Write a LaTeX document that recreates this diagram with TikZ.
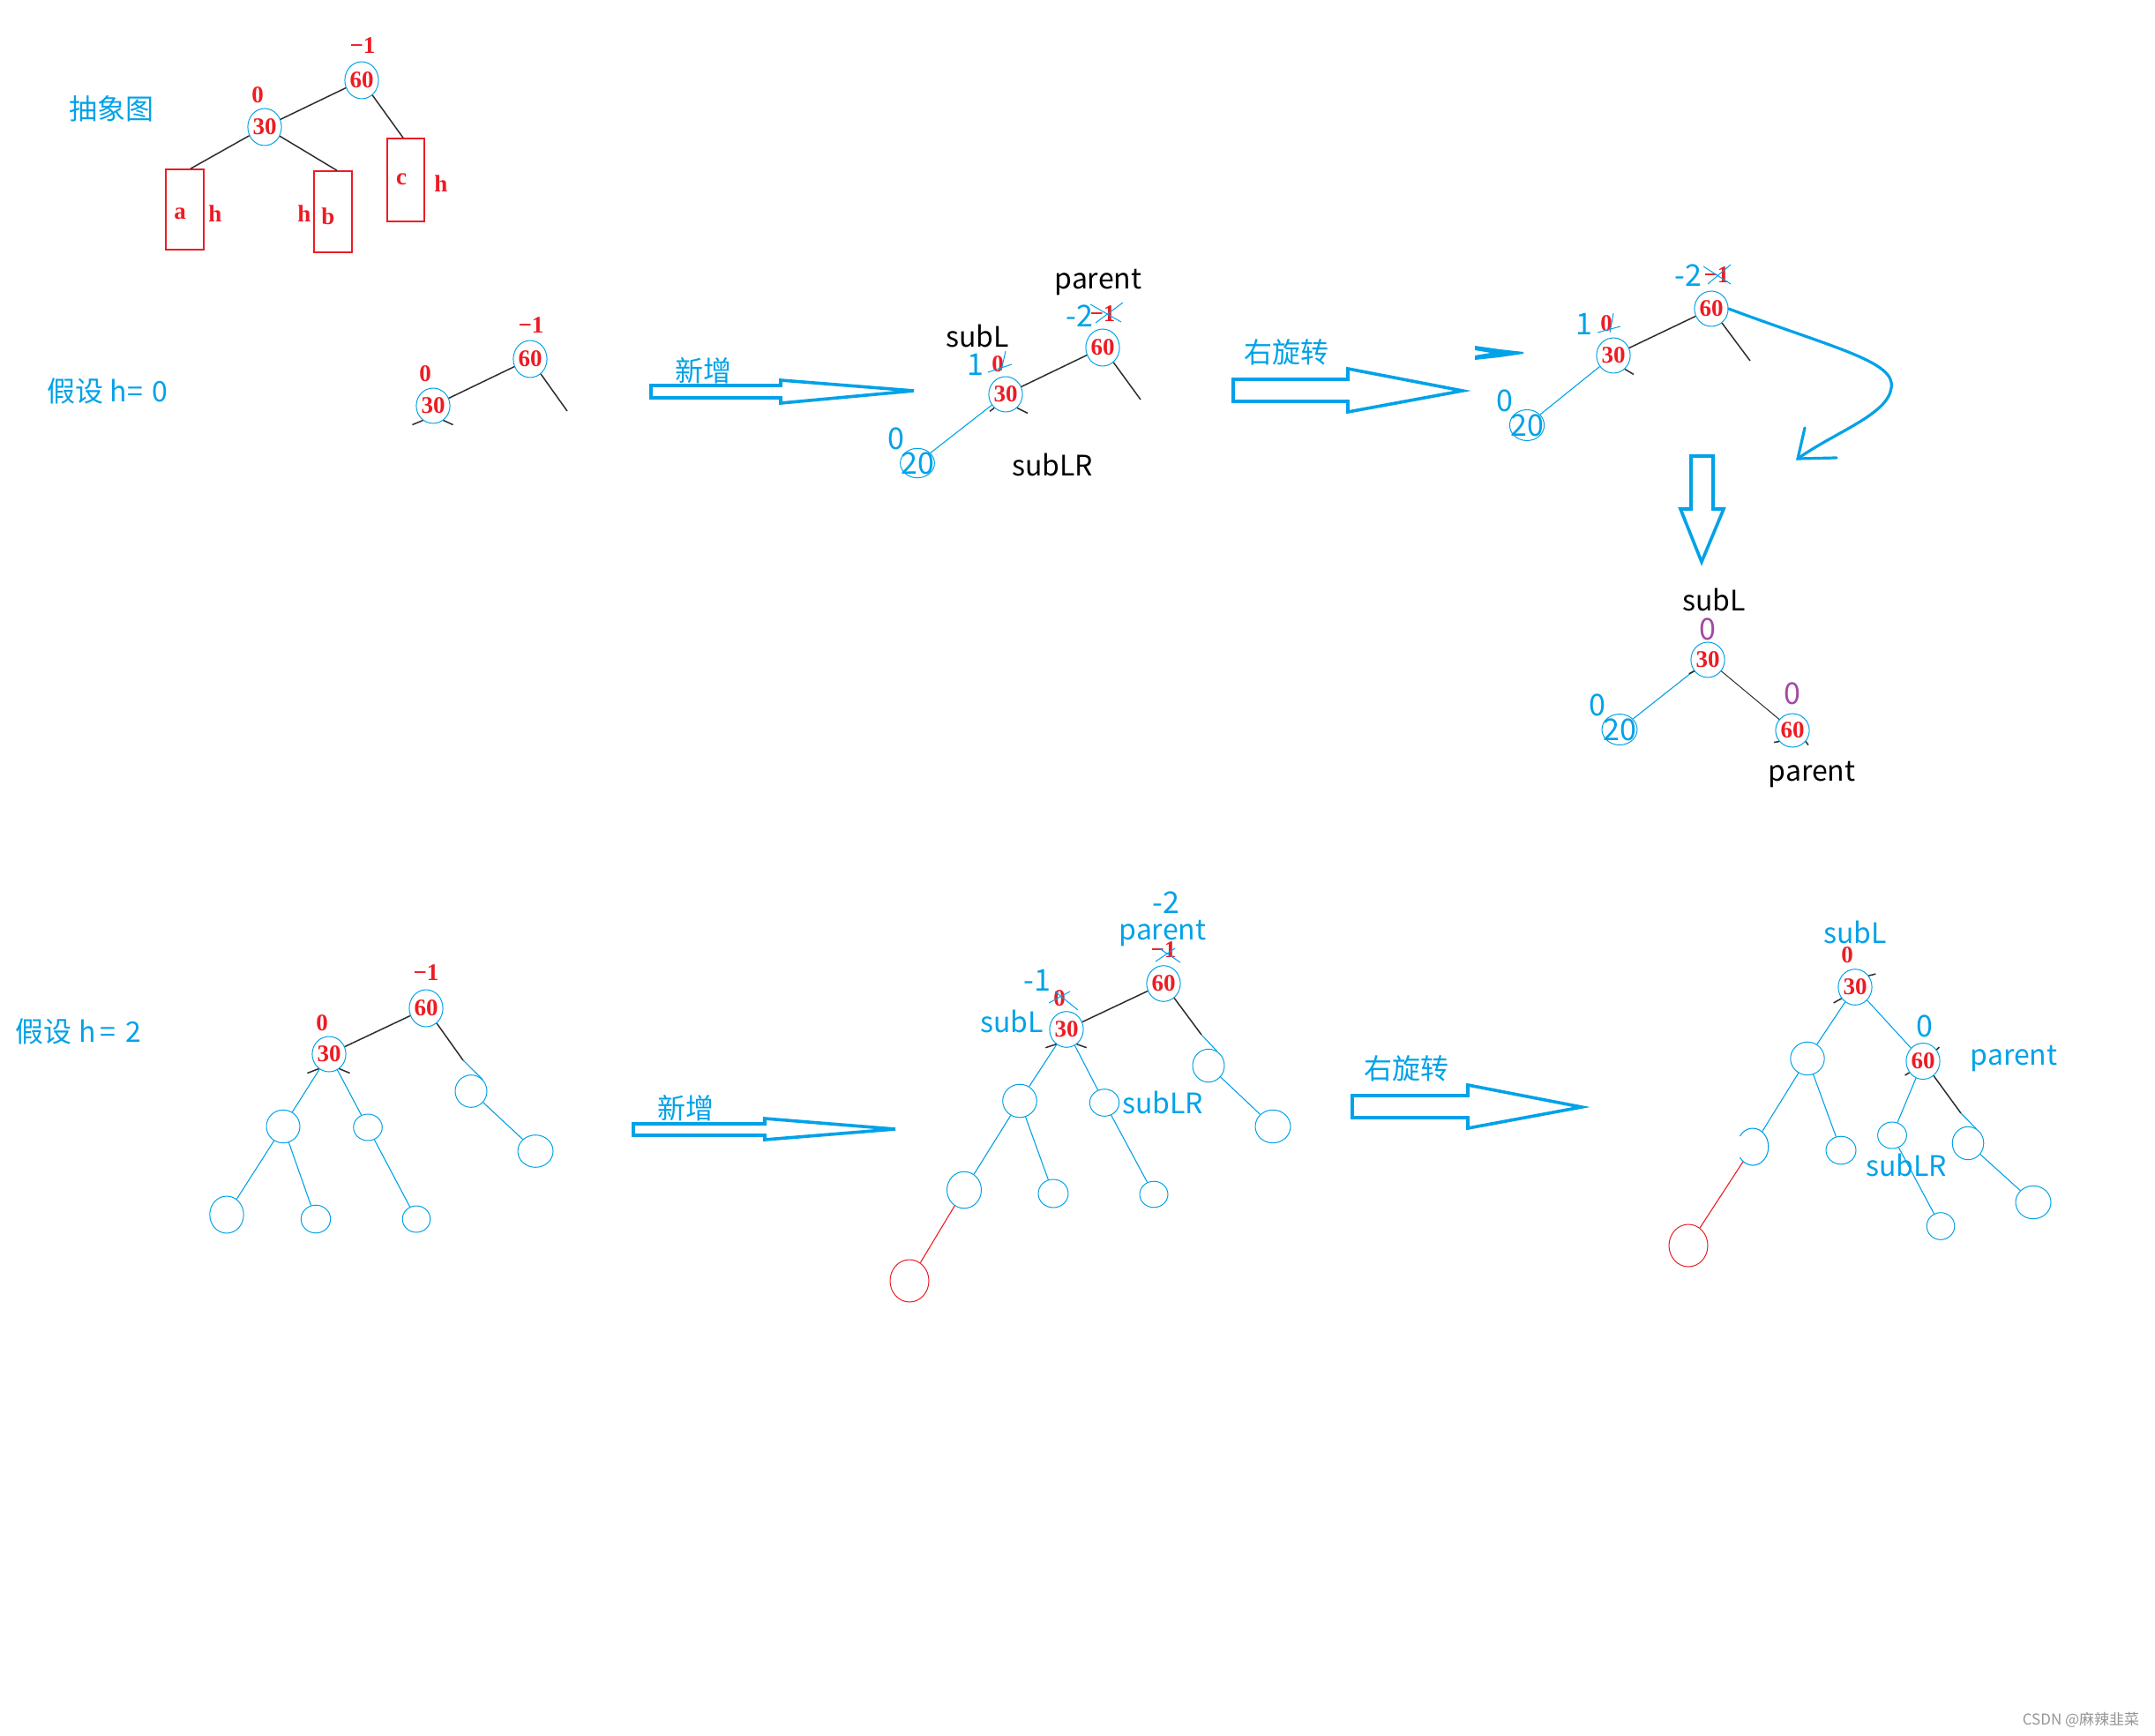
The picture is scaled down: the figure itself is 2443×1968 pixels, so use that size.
\documentclass[tikz,border=0pt]{standalone}
\usepackage{fontspec}
\setmainfont{Liberation Serif}
\newfontfamily\cjk{Noto Sans CJK SC}
\usetikzlibrary{shapes.geometric}
\definecolor{pblue}{RGB}{0,162,232}
\definecolor{pred}{RGB}{237,28,36}
\definecolor{ppurple}{RGB}{163,73,164}
\definecolor{pline}{RGB}{45,45,45}
\definecolor{wmgray}{RGB}{150,150,150}
\newcommand\RedNumFont{\fontsize{13.5}{15}\selectfont\bfseries}
\newcommand\ZhFont{\cjk\fontsize{16}{18}\selectfont}
\newcommand\LabFont{\cjk\fontsize{16}{18}\selectfont}
\newcommand\BlueNumFont{\cjk\fontsize{17}{19}\selectfont}
\newcommand\WmFont{\cjk\fontsize{8.5}{10}\selectfont}
\tikzset{
 nd/.style 2 args={ellipse, draw=pblue, line width=0.5pt, inner sep=0pt, minimum width=#1pt, minimum height=#2pt, text=pred, font=\RedNumFont},
 lf/.style 2 args={ellipse, draw=pblue, line width=0.5pt, inner sep=0pt, minimum width=#1pt, minimum height=#2pt},
 rlf/.style 2 args={ellipse, draw=pred, line width=0.5pt, inner sep=0pt, minimum width=#1pt, minimum height=#2pt},
 hid/.style 2 args={ellipse, inner sep=0pt, minimum width=#1pt, minimum height=#2pt},
 bx/.style 2 args={rectangle, draw=pred, line width=0.75pt, inner sep=0pt, minimum width=#1pt, minimum height=#2pt},
 rtxt/.style={text=pred, font=\RedNumFont, inner sep=0pt},
 btxt/.style={text=pblue, font=\BlueNumFont, inner sep=0pt},
 ptxt/.style={text=ppurple, font=\BlueNumFont, inner sep=0pt},
 ktxt/.style={text=black, font=\LabFont, inner sep=0pt},
 bltxt/.style={text=pblue, font=\LabFont, inner sep=0pt},
 zhtxt/.style={text=pblue, font=\ZhFont, inner sep=0pt},
 kline/.style={draw=pline, line width=0.75pt},
 bline/.style={draw=pblue, line width=0.55pt},
 rline/.style={draw=pred, line width=0.55pt},
 barrow/.style={draw=pblue, line width=1.8pt, line join=miter},
 carrow/.style={draw=pblue, line width=1.6pt, line cap=round},
 xmark/.style={draw=pblue, line width=0.5pt},
}
\begin{document}
\begin{tikzpicture}[x=0.5pt,y=-0.5pt]
\path[use as bounding box, fill=white] (0,0) rectangle (2443,1968);

% ---------- abstract picture ----------
\node[zhtxt] (t1) at (126,123) {抽象图};
\node[nd={19}{21}] (s1n60) at (410,91) {60};
\node[nd={19}{21}] (s1n30) at (300,144) {30};
\node[rtxt] (s1b60) at (411,52) {−1};
\node[rtxt] (s1b30) at (292,108) {0};
\node[bx={21.5}{45.5}] (boxa) at (209.5,237.5) {};
\node[bx={21.5}{46}] (boxb) at (377.5,240) {};
\node[bx={21}{47}] (boxc) at (460,204) {};
\node[rtxt] (la) at (204,242) {a};
\node[rtxt] (lha) at (244,242) {h};
\node[rtxt] (lhb) at (345,242) {h};
\node[rtxt] (lb) at (372,245) {b};
\node[rtxt] (lc) at (455,203) {c};
\node[rtxt] (lhc) at (500,208) {h};
\draw[kline] (s1n60) -- (s1n30);
\draw[kline] (s1n60) -- ([xshift=-1.5pt]boxc.north);
\draw[kline] (s1n30) -- ([xshift=3.25pt]boxa.north);
\draw[kline] (s1n30) -- ([xshift=2.25pt]boxb.north);

% ---------- h = 0 ----------
\node[zhtxt] (t2) at (122,443) {假设 h=\,\,0};
\node[nd={19}{21}] (s2n60) at (601,407) {60};
\node[nd={19}{20}] (s2n30) at (491,460) {30};
\node[rtxt] (s2b60) at (602,369) {−1};
\node[rtxt] (s2b30) at (482,424) {0};
\coordinate (s2e1) at (643,466);
\draw[kline] (s2n60) -- (s2n30);
\draw[kline] (s2n60) -- (s2e1);
\draw[kline] (s2n30.-125) -- ++(-12,5);
\draw[kline] (s2n30.-55) -- ++(11,5);

% arrow 新增 1
\node[zhtxt] (t3) at (797,420) {新增};
\draw[barrow] (738,437) -- (885,437) -- (885,431) -- (1036,443) -- (885,457) -- (885,451) -- (738,451) -- cycle;

% tree after insert
\node[nd={19}{21}] (s3n60) at (1250,394) {60};
\node[nd={19}{20}] (s3n30) at (1140,447) {30};
\node[lf={19.4}{16.7}, label={[btxt]center:20}] (s3n20) at (1040,525) {};
\node[ktxt] (s3p) at (1245,320) {parent};
\node[ktxt] (s3l) at (1108,381) {subL};
\node[ktxt] (s3lr) at (1193,527) {subLR};
\node[btxt] (s3m2) at (1224,358) {-2};
\node[rtxt] (s3x60) at (1250,356) {−1};
\draw[xmark] (1236,345) -- (1271,365) (1242,366) -- (1273,343);
\node[btxt] (s3one) at (1106,413) {1};
\node[rtxt] (s3x30) at (1131,413) {0};
\draw[xmark] (1120,422) -- (1147,413) (1140,398) -- (1135,420);
\node[btxt] (s3z20) at (1016,497) {0};
\coordinate (s3e1) at (1293,453);
\draw[kline] (s3n60) -- (s3n30);
\draw[kline] (s3n60) -- (s3e1);
\draw[kline] (s3n30.-50) -- ++(12,6);
\draw[kline] (s3n30.-130) -- ++(-5,4);
\draw[bline] (s3n30) -- (s3n20);

% arrow 右旋转 1
\node[zhtxt] (t4) at (1458,399) {右旋转};
\draw[barrow] (1398,430) -- (1528,430) -- (1528,418) -- (1658,443) -- (1528,467) -- (1528,455) -- (1398,455) -- cycle;
\fill[pblue] (1672,392) -- (1700,396) -- (1727,399) -- (1727,401) -- (1700,405) -- (1672,408) -- (1672,403) -- (1690,400) -- (1672,397) -- cycle;

% tree during rotation
\node[nd={18}{20}] (s4n60) at (1940,350) {60};
\node[nd={18}{20}] (s4n30) at (1829,403) {30};
\node[lf={19.6}{17.5}, label={[btxt]center:20}] (s4n20) at (1731,482) {};
\node[btxt] (s4m2) at (1914,312) {-2};
\node[rtxt] (s4x60) at (1946,312) {−1};
\draw[xmark] (1931,302) -- (1962,322) (1936,322) -- (1962,300);
\node[btxt] (s4one) at (1796,367) {1};
\node[rtxt] (s4x30) at (1821,367) {0};
\draw[xmark] (1811,377) -- (1837,370) (1829,355) -- (1825,377);
\node[btxt] (s4z20) at (1706,454) {0};
\coordinate (s4e1) at (1984,409);
\draw[kline] (s4n60) -- (s4n30);
\draw[kline] (s4n60) -- (s4e1);
\draw[kline] (s4n30.-50) -- ++(10,6);
\draw[bline] (s4n30) -- (s4n20);
\coordinate (cvtip) at (2038,520);
\draw[carrow] (s4n60.east) .. controls (2080,395) and (2150,410) .. (2144,440) .. controls (2140,470) and (2080,490) .. (cvtip);
\draw[carrow] (2046,485) -- (cvtip) -- (2082,519);

% down arrow
\draw[barrow] (1917,517) -- (1942,517) -- (1942,577) -- (1954,577) -- (1929,637) -- (1905,577) -- (1917,577) -- cycle;

% result tree h=0
\node[ktxt] (s5l) at (1943,680) {subL};
\node[ptxt] (s5z30) at (1936,713) {0};
\node[nd={19}{20}] (s5n30) at (1936,748) {30};
\node[lf={20}{17.5}, label={[btxt]center:20}] (s5n20) at (1836,827) {};
\node[btxt] (s5z20) at (1811,799) {0};
\node[nd={19}{19}] (s5n60) at (2032,828) {60};
\node[ptxt] (s5z60) at (2032,786) {0};
\node[ktxt] (s5p) at (2054,878) {parent};
\draw[bline] (s5n30) -- (s5n20);
\draw[draw=pline, line width=0.5pt] (s5n30) -- (s5n60);
\draw[kline] (s5n30.-140) -- ++(-6,3);
\draw[kline] (s5n60.-140) -- ++(-6,1);
\draw[kline] (s5n60.-40) -- ++(3,4);

% ---------- h = 2 ----------
\node[zhtxt] (t6) at (89,1169) {假设 h\,=\,\,2};
\node[nd={19}{21}] (a60) at (483,1143) {60};
\node[nd={19}{20}] (a30) at (373,1195) {30};
\node[rtxt] (ab60) at (483,1103) {−1};
\node[rtxt] (ab30) at (365,1160) {0};
\node[lf={18}{18.3}] (aR1) at (534,1237) {};
\node[lf={20}{18.3}] (aR2) at (607,1305) {};
\node[lf={19}{18.7}] (aL1) at (321,1277) {};
\node[lf={16.3}{15}] (aL2) at (417,1278) {};
\node[lf={19.2}{21}] (aLL1) at (257,1377) {};
\node[lf={16.7}{15.8}] (aLL2) at (358,1382) {};
\node[lf={15.8}{15}] (aL2R) at (472,1382) {};
\coordinate (aJ) at (525,1202);
\draw[kline] (a60) -- (a30);
\draw[kline] (a60) -- (aJ);
\draw[bline] (aJ) -- (aR1.45);
\draw[bline] (aR1) -- (aR2);
\draw[bline] (a30) -- (aL1);
\draw[bline] (a30) -- (aL2);
\draw[bline] (aL1) -- (aLL1);
\draw[bline] (aL1) -- (aLL2);
\draw[bline] (aL2) -- (aL2R);
\draw[kline] (a30.-125) -- ++(-13,5);
\draw[kline] (a30.-55) -- ++(12,5);

% arrow 新增 2
\node[zhtxt] (t7) at (777,1256) {新增};
\draw[barrow] (718,1274) -- (867,1274) -- (867,1268) -- (1015,1280) -- (867,1292) -- (867,1287) -- (718,1287) -- cycle;

% tree B
\node[nd={19}{20.3}] (b60) at (1319,1115) {60};
\node[nd={19}{20.3}] (b30) at (1209,1167) {30};
\node[btxt] (bm2) at (1322,1023) {-2};
\node[bltxt] (bpar) at (1318,1058) {parent};
\node[rtxt] (bx60) at (1319,1077) {−1};
\draw[xmark] (1310,1090) -- (1332,1075) (1314,1075) -- (1338,1091);
\node[btxt] (bm1) at (1176,1111) {-1};
\node[rtxt] (bx30) at (1201,1132) {0};
\draw[xmark] (1189,1137) -- (1213,1124) (1196,1124) -- (1222,1145);
\node[bltxt] (bsubl) at (1147,1158) {subL};
\node[bltxt] (bsublr) at (1318,1250) {subLR};
\node[lf={18}{18.7}] (bR1) at (1370,1208) {};
\node[lf={20}{18.7}] (bR2) at (1443,1277) {};
\node[lf={19.3}{18.8}] (bL1) at (1156,1248) {};
\node[lf={16.7}{15.3}] (bL2) at (1252,1250) {};
\node[lf={19.5}{20.8}] (bLL1) at (1093,1349) {};
\node[lf={17}{16}] (bLL2) at (1194,1353) {};
\node[lf={16}{14.8}] (bL2R) at (1308,1354) {};
\node[rlf={22}{24}] (bNew) at (1031,1452) {};
\coordinate (bJ) at (1362,1173);
\draw[kline] (b60) -- (b30);
\draw[kline] (b60) -- (bJ);
\draw[bline] (bJ) -- (bR1.60);
\draw[bline] (bR1) -- (bR2);
\draw[bline] (b30) -- (bL1);
\draw[bline] (b30) -- (bL2);
\draw[bline] (bL1) -- (bLL1);
\draw[bline] (bL1) -- (bLL2);
\draw[bline] (bL2) -- (bL2R);
\draw[rline] (bLL1) -- (bNew);
\draw[kline] (b30.-125) -- ++(-12,4);
\draw[kline] (b30.-55) -- ++(11,4);

% arrow 右旋转 2
\node[zhtxt] (t8) at (1594,1211) {右旋转};
\draw[barrow] (1533,1242) -- (1664,1242) -- (1664,1230) -- (1793,1255) -- (1664,1279) -- (1664,1267) -- (1533,1267) -- cycle;

% tree C
\node[bltxt] (csubl) at (2103,1057) {subL};
\node[rtxt] (cz30) at (2094,1083) {0};
\node[nd={19}{20.3}] (c30) at (2103,1119) {30};
\node[nd={19}{20.5}] (c60) at (2180,1203) {60};
\node[btxt] (cz60) at (2182,1163) {0};
\node[bltxt] (cpar) at (2283,1200) {parent};
\node[bltxt] (csublr) at (2161,1321) {subLR};
\node[lf={19.2}{18.7}] (cL1) at (2049,1200) {};
\node[hid={17.8}{21}] (cLL1) at (1987,1300) {};
\draw[bline] (cLL1.center) ++(145:17.8 and 21) arc[start angle=145, end angle=-145, x radius=17.8, y radius=21];
\node[lf={17}{15.8}] (cLL2) at (2087,1304) {};
\node[rlf={22}{24}] (cRed) at (1914,1412) {};
\node[lf={16.4}{15}] (c60L) at (2145,1287) {};
\node[lf={15.8}{15.3}] (c60LR) at (2200,1390) {};
\node[lf={17.8}{18.7}] (c60R) at (2231,1296) {};
\node[lf={20}{18.7}] (c60RR) at (2305,1363) {};
\coordinate (cJ) at (2223,1262);
\draw[bline] (c30) -- (cL1);
\draw[bline] (c30) -- (c60);
\draw[bline] (cL1) -- (cLL1);
\draw[bline] (cL1) -- (cLL2);
\draw[rline] (cLL1) -- (cRed);
\draw[bline] (c60) -- (c60L);
\draw[bline] (c60L) -- (c60LR);
\draw[kline] (c60) -- (cJ);
\draw[bline] (cJ) -- (c60R.60);
\draw[bline] (c60R) -- (c60RR);
\draw[kline] (c30.40) -- ++(8,-2);
\draw[kline] (c30.-140) -- ++(-9,5);
\draw[kline] (c60.40) -- ++(3,-3);
\draw[kline] (c60.-140) -- ++(-5,3);

% watermark
\node[text=wmgray, font=\WmFont, inner sep=0pt] (wm) at (2359,1950) {CSDN @麻辣韭菜};
\end{tikzpicture}
\end{document}
